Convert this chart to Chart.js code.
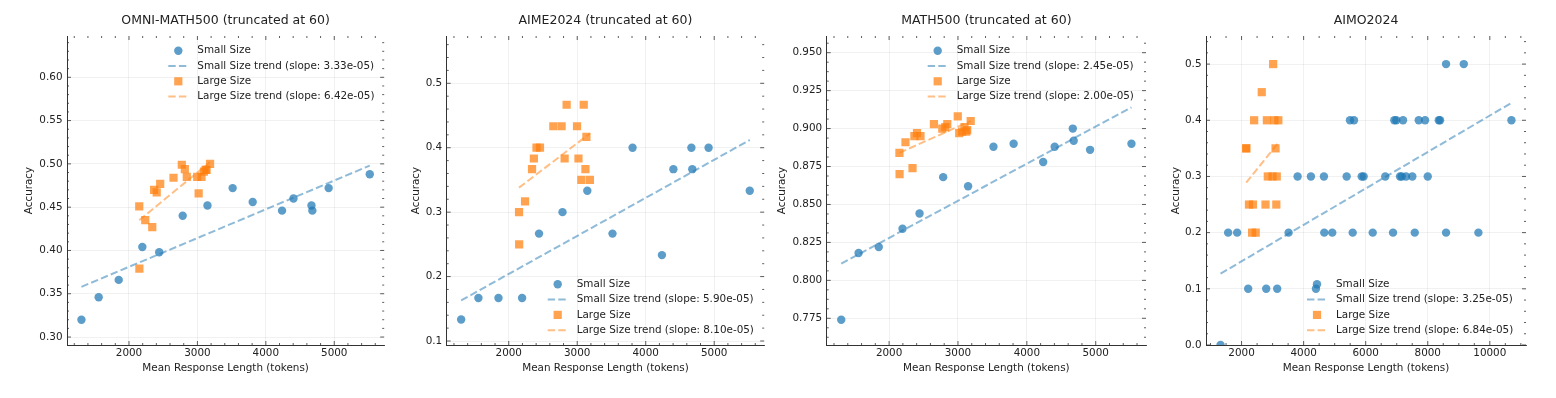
<!DOCTYPE html>
<html>
<head>
<meta charset="utf-8">
<script src="https://cdn.jsdelivr.net/npm/chart.js@4.4.1/dist/chart.umd.min.js"></script>
<style>
  body { margin: 0; background: #fff; }
  #wrap { position: relative; width: 1556px; height: 398px; }
  canvas { position: absolute; top: 0; }
</style>
</head>
<body>
<div id="wrap">
  <canvas id="c1" width="390" height="398" style="left:0px"></canvas>
  <canvas id="c2" width="380" height="398" style="left:390px"></canvas>
  <canvas id="c3" width="390" height="398" style="left:770px"></canvas>
  <canvas id="c4" width="396" height="398" style="left:1160px"></canvas>
</div>
<script>
// mean response length per model (shared by the three truncated benchmarks)
const smallLen = [1305, 1557, 1850, 2195, 2442, 2785, 3147, 3515, 3808, 4237, 4404, 4667, 4680, 4918, 5519];
const largeLen = [2150, 2152, 2238, 2340, 2367, 2405, 2456, 2651, 2772, 2816, 2845, 2997, 3018, 3060, 3095, 3120, 3134, 3185];

// OMNI-MATH500
const omniSmallAcc = [0.320, 0.346, 0.366, 0.404, 0.398, 0.440, 0.452, 0.472, 0.456, 0.446, 0.460, 0.452, 0.446, 0.472, 0.488];
const omniLargeAcc = [0.451, 0.379, 0.435, 0.427, 0.470, 0.467, 0.477, 0.484, 0.499, 0.494, 0.485, 0.485, 0.466, 0.485, 0.491, 0.493, 0.493, 0.500];
const omniSmallTrend = [0.358, 0.498];
const omniLargeTrend = [0.435, 0.502];
const omniSlopes = ["3.33e-05", "6.42e-05"];

// AIME2024
const aimeSmallAcc = [0.1333, 0.1667, 0.1667, 0.1667, 0.2667, 0.3000, 0.3333, 0.2667, 0.4000, 0.2333, 0.3667, 0.4000, 0.3667, 0.4000, 0.3333];
const aimeLargeAcc = [0.3000, 0.2500, 0.3167, 0.3667, 0.3833, 0.4000, 0.4000, 0.4333, 0.4333, 0.3833, 0.4667, 0.4333, 0.3833, 0.3500, 0.4667, 0.3667, 0.4167, 0.3500];
const aimeSmallTrend = [0.163, 0.412];
const aimeLargeTrend = [0.338, 0.422];
const aimeSlopes = ["5.90e-05", "8.10e-05"];

// MATH500
const mathSmallAcc = [0.774, 0.818, 0.822, 0.834, 0.844, 0.868, 0.862, 0.888, 0.890, 0.878, 0.888, 0.900, 0.892, 0.886, 0.890];
const mathLargeAcc = [0.884, 0.870, 0.891, 0.874, 0.895, 0.897, 0.895, 0.903, 0.900, 0.901, 0.903, 0.908, 0.897, 0.898, 0.901, 0.898, 0.899, 0.905];
const mathSmallTrend = [0.811, 0.914];
const mathLargeTrend = [0.884, 0.905];
const mathSlopes = ["2.45e-05", "2.00e-05"];

// AIMO2024 (not truncated, its own set of small models)
const aimoSmallLen = [1323, 1568, 1858, 2213, 2794, 3148, 3516, 3806, 4235, 4397, 4654, 4665, 4923, 5387, 5494, 5581, 5623, 5871, 5935, 6226,
                      6632, 6881, 6923, 6987, 7106, 7161, 7203, 7300, 7503, 7581, 7710, 7913, 8000, 8355, 8397, 8590, 8590, 9161, 9632, 10697];
const aimoSmallAcc = [0.0, 0.2, 0.2, 0.1, 0.1, 0.1, 0.2, 0.3, 0.3, 0.1, 0.3, 0.2, 0.2, 0.3, 0.4, 0.2, 0.4, 0.3, 0.3, 0.2,
                      0.3, 0.2, 0.4, 0.4, 0.3, 0.3, 0.4, 0.3, 0.3, 0.2, 0.4, 0.4, 0.3, 0.4, 0.4, 0.5, 0.2, 0.5, 0.2, 0.4];
const aimoLargeAcc = [0.35, 0.35, 0.25, 0.20, 0.25, 0.40, 0.20, 0.45, 0.25, 0.40, 0.30, 0.30, 0.50, 0.40, 0.35, 0.25, 0.30, 0.40];
const aimoSmallTrend = [0.127, 0.431];
const aimoLargeTrend = [0.289, 0.360];
const aimoSlopes = ["3.25e-05", "6.84e-05"];

const FONT = '"DejaVu Sans", sans-serif';
const TXT = '#222';

function pts(xs, ys) {
    return xs.map((x, i) => ({ x: x, y: ys[i] }));
}
function ends(xs, tr) {
    return [{ x: Math.min(...xs), y: tr[0] }, { x: Math.max(...xs), y: tr[1] }];
}
// tick values at multiples of step inside [min, max]
function stepVals(min, max, step) {
    const out = [];
    for (let k = Math.ceil(min / step - 1e-9); k * step <= max + 1e-9; k++) {
        out.push(Math.round(k * step * 1e6) / 1e6);
    }
    return out;
}

// matplotlib-like inward ticks on all four sides, majors and minors
const innerTicks = {
    id: 'innerTicks',
    afterDraw(chart, args, opts) {
        const { ctx, chartArea: a, scales } = chart;
        ctx.save();
        ctx.strokeStyle = '#333';
        ctx.lineWidth = 0.8;
        ['x', 'y'].forEach(id => {
            const s = scales[id];
            const major = s.ticks.map(t => t.value);
            const step = opts[id + 'Minor'];
            stepVals(s.min, s.max, step).forEach(v => {
                const len = major.some(m => Math.abs(m - v) < step / 10) ? 4 : 2;
                const p = s.getPixelForValue(v);
                ctx.beginPath();
                if (id === 'x') {
                    ctx.moveTo(p, a.bottom); ctx.lineTo(p, a.bottom - len);
                    ctx.moveTo(p, a.top); ctx.lineTo(p, a.top + len);
                } else {
                    ctx.moveTo(a.left, p); ctx.lineTo(a.left + len, p);
                    ctx.moveTo(a.right, p); ctx.lineTo(a.right - len, p);
                }
                ctx.stroke();
            });
        });
        ctx.restore();
    }
};

const panelTitle = {
    id: 'panelTitle',
    afterDraw(chart, args, opts) {
        const { ctx, chartArea: a } = chart;
        ctx.save();
        ctx.font = '12.5px ' + FONT;
        ctx.fillStyle = TXT;
        ctx.textAlign = 'center';
        ctx.textBaseline = 'middle';
        ctx.fillText(opts.text, (a.left + a.right) / 2, 21);
        ctx.restore();
    }
};

const boxLegend = {
    id: 'boxLegend',
    afterDraw(chart, args, opts) {
        const ctx = chart.ctx;
        ctx.save();
        ctx.font = '10.4px ' + FONT;
        ctx.textBaseline = 'middle';
        chart.data.datasets.forEach((ds, i) => {
            const y = opts.y + i * 15.3;
            if (ds.showLine) {
                ctx.strokeStyle = ds.borderColor;
                ctx.lineWidth = ds.borderWidth;
                ctx.setLineDash(ds.borderDash);
                ctx.beginPath();
                ctx.moveTo(opts.x - 10, y);
                ctx.lineTo(opts.x + 10, y);
                ctx.stroke();
                ctx.setLineDash([]);
            } else {
                ctx.fillStyle = ds.backgroundColor;
                Chart.helpers.drawPoint(ctx, { pointStyle: ds.pointStyle, radius: ds.pointRadius, borderWidth: 0, rotation: 0 }, opts.x, y);
            }
            ctx.fillStyle = TXT;
            ctx.fillText(ds.label, opts.x + 19, y);
        });
        ctx.restore();
    }
};

function makePanel(id, p) {
    const tickFont = { family: FONT, size: 10.4 };
    new Chart(document.getElementById(id), {
        type: 'scatter',
        data: {
            datasets: [
                { label: 'Small Size', data: pts(p.sLen, p.sAcc), pointStyle: 'circle', pointRadius: 4.2,
                  backgroundColor: 'rgba(31,119,180,0.72)', borderWidth: 0, order: 2 },
                { label: 'Small Size trend (slope: ' + p.slopes[0] + ')', data: ends(p.sLen, p.sTrend), showLine: true,
                  pointRadius: 0, borderColor: 'rgba(31,119,180,0.5)', borderWidth: 2, borderDash: [7.4, 3.2], order: 0 },
                { label: 'Large Size', data: pts(largeLen, p.lAcc), pointStyle: 'rect', pointRadius: 5.8,
                  backgroundColor: 'rgba(255,127,14,0.72)', borderWidth: 0, order: 1 },
                { label: 'Large Size trend (slope: ' + p.slopes[1] + ')', data: ends(largeLen, p.lTrend), showLine: true,
                  pointRadius: 0, borderColor: 'rgba(255,127,14,0.5)', borderWidth: 2, borderDash: [7.4, 3.2], order: 0 }
            ]
        },
        options: {
            responsive: false,
            animation: false,
            devicePixelRatio: 1,
            events: [],
            layout: { padding: { left: 0, right: p.padRight, top: 36, bottom: 0 } },
            scales: {
                x: {
                    type: 'linear', min: p.xMin, max: p.xMax,
                    afterFit(s) { s.height = 53; },
                    afterBuildTicks(s) { s.ticks = stepVals(p.xMin, p.xMax, p.xStep).map(v => ({ value: v })); },
                    grid: { color: 'rgba(0,0,0,0.07)', lineWidth: 0.8, drawTicks: false },
                    border: { color: '#333', width: 1 },
                    ticks: { autoSkip: false, maxRotation: 0, padding: 2,
                             color: TXT, font: tickFont, callback: v => String(v) },
                    title: { display: true, text: 'Mean Response Length (tokens)', color: TXT, font: tickFont,
                             padding: { top: 0, bottom: 23.5 } }
                },
                y: {
                    type: 'linear', min: p.yMin, max: p.yMax,
                    afterFit(s) { s.width = p.yWidth; },
                    afterBuildTicks(s) { s.ticks = stepVals(p.yMin, p.yMax, p.yStep).map(v => ({ value: v })); },
                    grid: { color: 'rgba(0,0,0,0.07)', lineWidth: 0.8, drawTicks: false },
                    border: { color: '#333', width: 1 },
                    ticks: { autoSkip: false, padding: 4.5,
                             color: TXT, font: tickFont, callback: v => v.toFixed(p.yDec) },
                    title: { display: true, text: 'Accuracy', color: TXT, font: tickFont,
                             padding: { top: p.yTitlePad, bottom: 0 } }
                }
            },
            plugins: {
                legend: { display: false },
                tooltip: { enabled: false },
                panelTitle: { text: p.title },
                boxLegend: { x: p.legX, y: p.legY },
                innerTicks: { xMinor: p.xMinor, yMinor: p.yMinor }
            }
        },
        plugins: [innerTicks, panelTitle, boxLegend]
    });
}

makePanel('c1', {
    title: 'OMNI-MATH500 (truncated at 60)', sLen: smallLen, sAcc: omniSmallAcc, lAcc: omniLargeAcc,
    sTrend: omniSmallTrend, lTrend: omniLargeTrend, slopes: omniSlopes,
    xMin: 1094, xMax: 5730, xStep: 1000, xMinor: 200,
    yMin: 0.2908, yMax: 0.6477, yStep: 0.05, yMinor: 0.01, yDec: 2,
    yWidth: 67, padRight: 3.5, yTitlePad: 23.1, legX: 178.3, legY: 50.7
});
makePanel('c2', {
    title: 'AIME2024 (truncated at 60)', sLen: smallLen, sAcc: aimeSmallAcc, lAcc: aimeLargeAcc,
    sTrend: aimeSmallTrend, lTrend: aimeLargeTrend, slopes: aimeSlopes,
    xMin: 1094, xMax: 5730, xStep: 1000, xMinor: 200,
    yMin: 0.0938, yMax: 0.5734, yStep: 0.1, yMinor: 0.02, yDec: 1,
    yWidth: 56.7, padRight: 4, yTitlePad: 20, legX: 167.7, legY: 284.3
});
makePanel('c3', {
    title: 'MATH500 (truncated at 60)', sLen: smallLen, sAcc: mathSmallAcc, lAcc: mathLargeAcc,
    sTrend: mathSmallTrend, lTrend: mathLargeTrend, slopes: mathSlopes,
    xMin: 1094, xMax: 5730, xStep: 1000, xMinor: 200,
    yMin: 0.7574, yMax: 0.961, yStep: 0.025, yMinor: 0.00625, yDec: 3,
    yWidth: 56.7, padRight: 14, yTitlePad: 6.3, legX: 167.7, legY: 50.7
});
makePanel('c4', {
    title: 'AIMO2024', sLen: aimoSmallLen, sAcc: aimoSmallAcc, lAcc: aimoLargeAcc,
    sTrend: aimoSmallTrend, lTrend: aimoLargeTrend, slopes: aimoSlopes,
    xMin: 854, xMax: 11166, xStep: 2000, xMinor: 500,
    yMin: 0, yMax: 0.55, yStep: 0.1, yMinor: 0.02, yDec: 1,
    yWidth: 46, padRight: 30, yTitlePad: 9.6, legX: 157, legY: 284.3
});
</script>
</body>
</html>
